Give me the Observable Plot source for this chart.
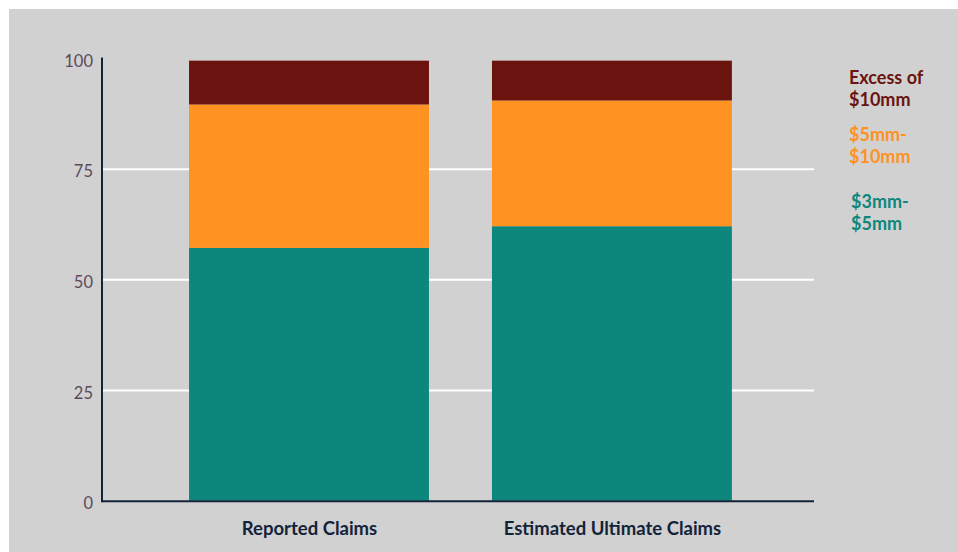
<!DOCTYPE html>
<html>
<head>
<meta charset="utf-8">
<script src="https://cdn.jsdelivr.net/npm/d3@7"></script>
<script src="https://cdn.jsdelivr.net/npm/@observablehq/plot@0.6"></script>
<style>
  html, body { margin: 0; padding: 0; background: #ffffff; overflow: hidden; }
  #wrap { position: absolute; left: 9px; top: 9px; width: 949px; height: 543px; background: #d1d1d1; font-family: Lato, "Open Sans", sans-serif; }
  #legend { position: absolute; left: 840px; top: 0; }
  .lg { position: absolute; left: 0; font-weight: 700; font-size: 18px; line-height: 22px; white-space: nowrap; }
</style>
</head>
<body>
<div id="wrap"><div id="chart"></div><div id="legend"></div></div>
<script>
const categories = ["Reported Claims", "Estimated Ultimate Claims"];
const seriesNames = ["$3mm-$5mm", "$5mm-$10mm", "Excess of $10mm"];
const seriesColors = ["#0d877c", "#ff9220", "#6b130e"];
const band3to5 = [57.1, 62.0];
const band5to10 = [32.4, 28.4];
const bandExcess = [9.9, 9.0];
const yTicks = [0, 25, 50, 75, 100];
const gridValues = [25, 50, 75];
const legendLines = [["Excess of", "$10mm"], ["$5mm-", "$10mm"], ["$3mm-", "$5mm"]];
const legendColors = ["#6b130e", "#ff9220", "#0d877c"];

const seriesValues = [band3to5, band5to10, bandExcess];
const rows = [];
seriesNames.forEach((s, si) => categories.forEach((c, ci) => rows.push({category: c, series: s, value: seriesValues[si][ci]})));

const chart = Plot.plot({
  width: 949,
  height: 543,
  marginLeft: 92.5,
  marginRight: 144,
  marginTop: 49,
  marginBottom: 51.3,
  style: {background: "transparent", fontFamily: "Lato, 'Open Sans', sans-serif"},
  x: {domain: categories, paddingInner: 0.208, paddingOuter: 0.28, align: 0.516, round: false, label: null},
  y: {domain: [0, 100], label: null},
  color: {domain: seriesNames, range: seriesColors},
  marks: [
    Plot.ruleY(gridValues, {stroke: "#ffffff", strokeWidth: 2}),
    Plot.barY(rows, {x: "category", y: "value", fill: "series", order: seriesNames}),
    Plot.axisY({ticks: yTicks, tickSize: 0, tickPadding: 9, fontSize: 16.5, dy: 3, fill: "#5b4a5e", label: null}),
    Plot.axisX({tickSize: 0, tickPadding: 21, fontSize: 18.5, fontWeight: 700, fill: "#13233a", label: null}),
    Plot.frame({anchor: "left", stroke: "#13233a", strokeWidth: 2}),
    Plot.ruleY([0], {stroke: "#13233a", strokeWidth: 2})
  ]
});
document.getElementById("chart").appendChild(chart);

const tops = [57, 114, 181];
const lefts = [0, 0, 2];
const legend = document.getElementById("legend");
legendLines.forEach((lines, i) => {
  const d = document.createElement("div");
  d.className = "lg";
  d.style.top = tops[i] + "px";
  d.style.left = lefts[i] + "px";
  d.style.color = legendColors[i];
  d.innerHTML = lines.join("<br>");
  legend.appendChild(d);
});
</script>
</body>
</html>
